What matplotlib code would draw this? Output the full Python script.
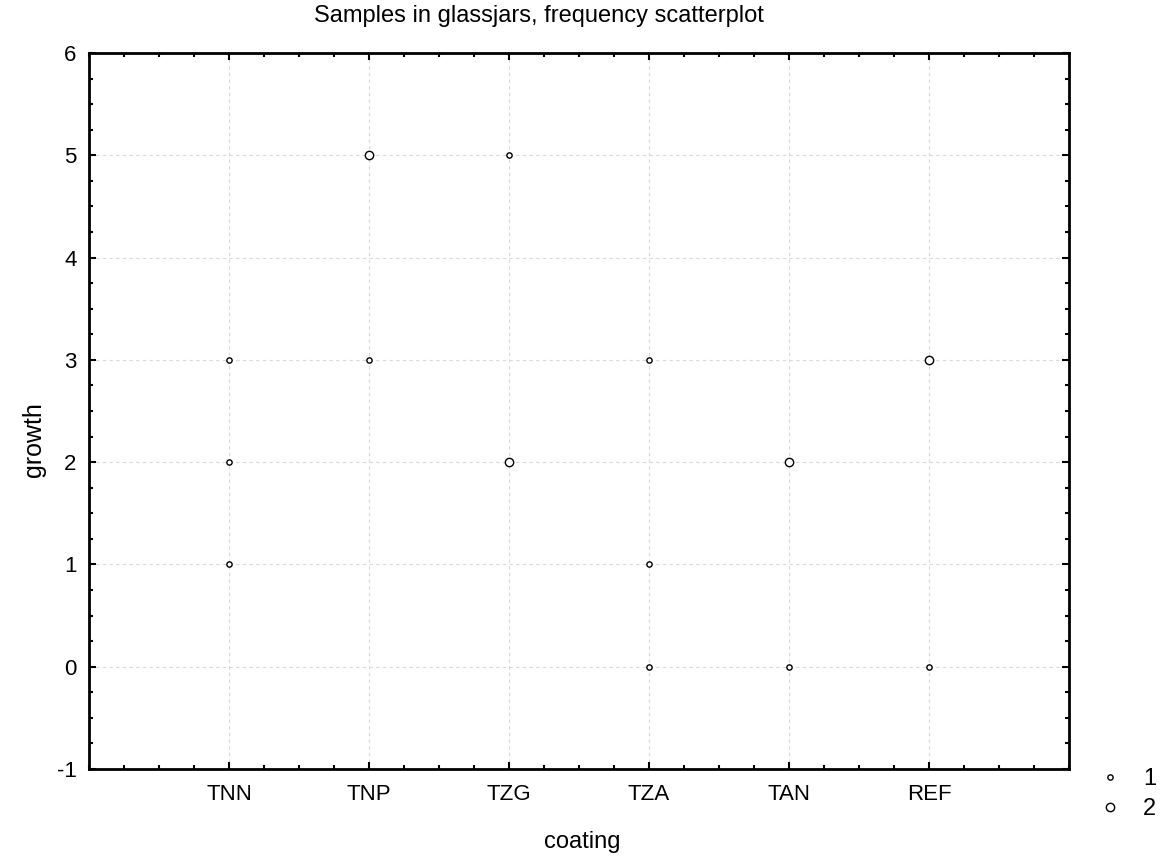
import matplotlib
matplotlib.use("Agg")
import matplotlib.pyplot as plt
from matplotlib.ticker import MultipleLocator
from matplotlib.lines import Line2D

plt.rcParams['font.family'] = ['Liberation Sans', 'DejaVu Sans']

categories = ["TNN", "TNP", "TZG", "TZA", "TAN", "REF"]
# points: (category, growth, frequency)
pt_cat = ["TNN", "TNN", "TNN", "TNP", "TNP", "TZG", "TZG", "TZA", "TZA", "TZA", "TAN", "TAN", "REF", "REF"]
pt_growth = [3, 2, 1, 5, 3, 5, 2, 3, 1, 0, 2, 0, 3, 0]
pt_freq = [1, 1, 1, 2, 1, 1, 2, 1, 1, 1, 2, 1, 2, 1]
freq_levels = [1, 2]

fig = plt.figure(figsize=(11.61, 8.59), dpi=100)
ax = fig.add_axes([89/1161, 1-769/859, (1069-89)/1161, (769-53)/859])

xpos = [categories.index(c) + 1 for c in pt_cat]
msize = {1: 3.8, 2: 6.0}
for f in freq_levels:
    xs = [x for x, fr in zip(xpos, pt_freq) if fr == f]
    ys = [y for y, fr in zip(pt_growth, pt_freq) if fr == f]
    ax.plot(xs, ys, linestyle='none', marker='o', markersize=msize[f],
            markerfacecolor='white', markeredgecolor='black', markeredgewidth=1.0,
            zorder=3)

ax.set_xlim(0, 7)
ax.set_ylim(-1, 6)
ax.set_xticks(range(1, 7))
ax.set_xticklabels(categories)
ax.xaxis.set_minor_locator(MultipleLocator(0.25))
ax.set_yticks(range(-1, 7))
ax.set_yticklabels([str(v) for v in range(-1, 7)])
ax.yaxis.set_minor_locator(MultipleLocator(0.25))

ax.tick_params(which='both', direction='in', top=True, right=True, width=1.5,
               labelsize=16)
ax.tick_params(axis='x', which='major', pad=11)
ax.tick_params(axis='y', which='major', pad=9)
ax.tick_params(which='major', length=5)
ax.tick_params(which='minor', length=3)
for s in ax.spines.values():
    s.set_linewidth(2)

ax.grid(True, which='major', linestyle=(0, (3, 3)), color='#d9d9d9', linewidth=0.8)
ax.set_axisbelow(True)

fig.text(582/1161, 1-842/859, "coating", ha='center', va='center', fontsize=17)
fig.text(34/1161, 1-440/859, "growth", ha='center', va='center', rotation=90, fontsize=18)
fig.text(539/1161, 1-16/859, "Samples in glassjars, frequency scatterplot",
         ha='center', va='center', fontsize=17)

handles = [Line2D([], [], linestyle='none', marker='o', markersize=msize[f],
                  markerfacecolor='white', markeredgecolor='black', markeredgewidth=1.0)
           for f in freq_levels]
fig.legend(handles, [str(f) for f in freq_levels], loc='center left',
           bbox_to_anchor=(1098/1161, 1-794/859), borderpad=0, borderaxespad=0,
           frameon=False, fontsize=17, handletextpad=0.9, labelspacing=0.35,
           handlelength=1.0)

fig.savefig("out.png", dpi=100)
